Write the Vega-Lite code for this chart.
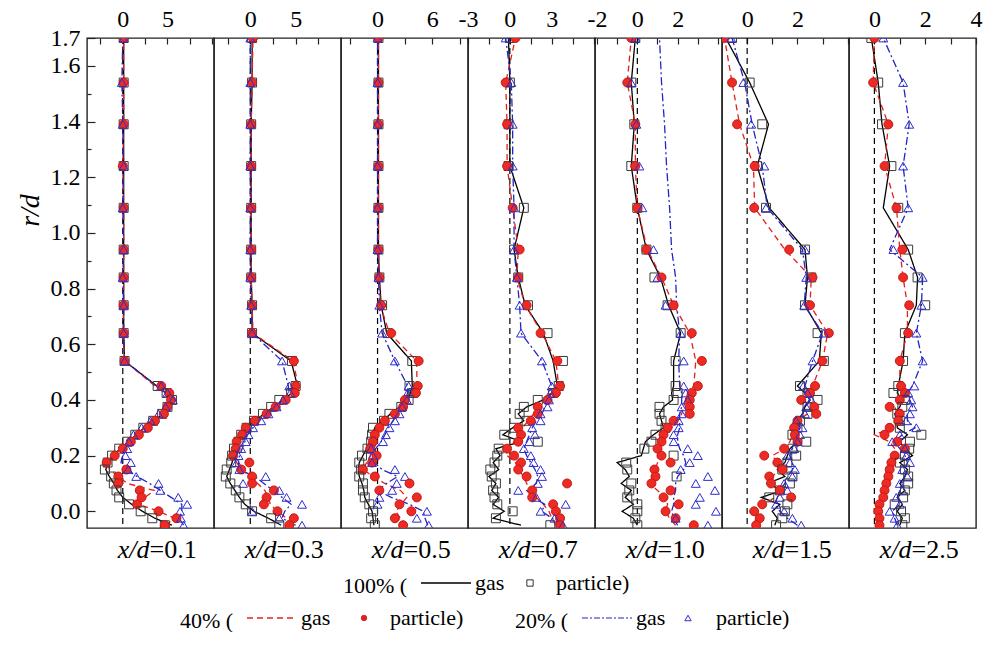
{
  "$schema": "https://vega.github.io/schema/vega-lite/v6.json",
  "description": "Radial profiles r/d at seven stations x/d, gas lines and particle symbols for 100%, 40% and 20% cases",
  "background": "white",
  "padding": {"left": 15, "top": 6, "right": 0, "bottom": 0},
  "bounds": "flush",
  "spacing": 0,
  "config": {
    "font": "Liberation Serif",
    "view": {"stroke": "#222222", "strokeWidth": 1.4},
    "axis": {
      "labelFont": "Liberation Serif", "labelFontSize": 24, "labelColor": "#000000",
      "titleFont": "Liberation Serif", "titleColor": "#000000", "titleFontWeight": "normal",
      "tickColor": "#222222", "tickWidth": 1.2, "grid": false, "domain": false,
      "labelFlush": false, "labelOverlap": false
    },
    "legend": {
      "labelFont": "Liberation Serif", "labelFontSize": 22, "labelColor": "#000000",
      "titleFont": "Liberation Serif", "titleFontSize": 22, "titleFontWeight": "normal", "titleColor": "#000000",
      "orient": "none", "direction": "horizontal", "titleOrient": "left", "titleAnchor": "middle", "titleBaseline": "top",
      "titlePadding": 12, "symbolOpacity": 1
    }
  },
  "data": {
    "values": [
      {"panel":1,"r":1.7,"g100":0.1,"p100":0.1,"g40":0.1,"p40":0.1,"g20":0.0,"p20":0.1},
      {"panel":1,"r":1.54,"g100":0.1,"p100":0.1,"g40":0.1,"p40":0.1,"g20":-0.1,"p20":-0.1},
      {"panel":1,"r":1.39,"g100":0.1,"p100":0.1,"g40":0.1,"p40":0.1,"g20":0.0,"p20":0.0},
      {"panel":1,"r":1.24,"g100":0.1,"p100":0.1,"g40":0.0,"p40":0.0,"g20":0.1,"p20":0.1},
      {"panel":1,"r":1.09,"g100":0.1,"p100":0.1,"g40":0.1,"p40":0.1,"g20":0.0,"p20":0.0},
      {"panel":1,"r":0.94,"g100":0.1,"p100":0.1,"g40":0.1,"p40":0.1,"g20":0.1,"p20":0.1},
      {"panel":1,"r":0.84,"g100":0.1,"p100":0.1,"g40":0.1,"p40":0.1,"g20":0.0,"p20":0.0},
      {"panel":1,"r":0.74,"g100":0.1,"p100":0.1,"g40":0.1,"p40":0.1,"g20":0.1,"p20":0.1},
      {"panel":1,"r":0.64,"g100":0.1,"p100":0.1,"g40":0.0,"p40":0.1,"g20":0.1,"p20":0.1},
      {"panel":1,"r":0.54,"g100":0.2,"p100":0.2,"g40":0.2,"p40":0.2,"g20":0.2,"p20":0.2},
      {"panel":1,"r":0.45,"g100":3.8,"p100":3.9,"g40":3.6,"p40":4.3,"g20":3.8,"p20":4.3},
      {"panel":1,"r":0.425,"g100":4.8,"p100":4.9,"g40":4.7,"p40":5.2,"g20":4.8,"p20":5.0},
      {"panel":1,"r":0.4,"g100":5.6,"p100":5.5,"g40":5.5,"p40":5.4,"g20":5.6,"p20":5.6},
      {"panel":1,"r":0.375,"g100":5.2,"p100":5.0,"g40":5.0,"p40":5.0,"g20":5.0,"p20":4.8},
      {"panel":1,"r":0.35,"g100":4.5,"p100":4.4,"g40":4.4,"p40":4.6,"g20":4.2,"p20":4.0},
      {"panel":1,"r":0.325,"g100":3.5,"p100":3.4,"g40":3.4,"p40":3.6,"g20":3.2,"p20":3.1},
      {"panel":1,"r":0.3,"g100":2.4,"p100":2.3,"g40":2.5,"p40":2.8,"g20":2.2,"p20":2.1},
      {"panel":1,"r":0.275,"g100":1.5,"p100":1.4,"g40":1.6,"p40":1.8,"g20":1.3,"p20":1.2},
      {"panel":1,"r":0.25,"g100":0.6,"p100":0.5,"g40":0.7,"p40":0.9,"g20":0.7,"p20":0.7},
      {"panel":1,"r":0.225,"g100":-0.3,"p100":-0.4,"g40":-0.2,"p40":0.0,"g20":0.3,"p20":0.5},
      {"panel":1,"r":0.2,"g100":-1.1,"p100":-1.2,"g40":-1.0,"p40":-0.9,"g20":0.0,"p20":0.3},
      {"panel":1,"r":0.175,"g100":-1.6,"p100":-1.7,"g40":-1.6,"p40":-1.8,"g20":-0.2,"p20":0.9},
      {"panel":1,"r":0.15,"g100":-1.9,"p100":-2.0,"g40":-1.5,"p40":0.4,"g20":0.4,"p20":0.6},
      {"panel":1,"r":0.125,"g100":-1.5,"p100":-1.3,"g40":-0.5,"p40":-0.5,"g20":1.6,"p20":1.5},
      {"panel":1,"r":0.1,"g100":-1.0,"p100":-1.0,"g40":0.5,"p40":-0.5,"g20":3.0,"p20":4.0},
      {"panel":1,"r":0.075,"g100":-0.6,"p100":-0.7,"g40":3.5,"p40":1.9,"g20":4.2,"p20":4.2},
      {"panel":1,"r":0.05,"g100":0.0,"p100":-0.4,"g40":2.5,"p40":2.1,"g20":5.4,"p20":6.2},
      {"panel":1,"r":0.025,"g100":1.0,"p100":0.7,"g40":1.8,"p40":1.6,"g20":6.6,"p20":7.2},
      {"panel":1,"r":0.0,"g100":2.2,"p100":2.0,"g40":4.0,"p40":4.0,"g20":6.6,"p20":6.4},
      {"panel":1,"r":-0.025,"g100":3.6,"p100":3.3,"g40":5.8,"p40":6.0,"g20":6.3,"p20":6.5},
      {"panel":1,"r":-0.05,"g100":5.5,"p100":4.7,"g40":4.8,"p40":4.7,"g20":6.8,"p20":6.8},

      {"panel":2,"r":1.7,"g100":0.2,"p100":0.2,"g40":0.3,"p40":0.3,"g20":0.0,"p20":0.0},
      {"panel":2,"r":1.54,"g100":0.2,"p100":0.2,"g40":0.2,"p40":0.2,"g20":0.0,"p20":0.0},
      {"panel":2,"r":1.39,"g100":0.1,"p100":0.1,"g40":0.1,"p40":0.1,"g20":0.0,"p20":0.0},
      {"panel":2,"r":1.24,"g100":0.1,"p100":0.1,"g40":0.1,"p40":0.1,"g20":0.0,"p20":0.0},
      {"panel":2,"r":1.09,"g100":0.1,"p100":0.1,"g40":0.1,"p40":0.1,"g20":0.0,"p20":0.0},
      {"panel":2,"r":0.94,"g100":0.1,"p100":0.1,"g40":0.1,"p40":0.1,"g20":0.0,"p20":0.0},
      {"panel":2,"r":0.84,"g100":0.1,"p100":0.1,"g40":0.1,"p40":0.1,"g20":0.0,"p20":0.0},
      {"panel":2,"r":0.74,"g100":0.2,"p100":0.2,"g40":0.2,"p40":0.2,"g20":0.1,"p20":0.1},
      {"panel":2,"r":0.64,"g100":0.2,"p100":0.2,"g40":0.3,"p40":0.2,"g20":0.2,"p20":0.2},
      {"panel":2,"r":0.54,"g100":4.5,"p100":4.6,"g40":4.7,"p40":4.8,"g20":3.5,"p20":3.5},
      {"panel":2,"r":0.45,"g100":5.2,"p100":5.0,"g40":5.3,"p40":5.0,"g20":4.2,"p20":4.3},
      {"panel":2,"r":0.425,"g100":4.6,"p100":4.5,"g40":4.8,"p40":4.9,"g20":4.2,"p20":4.4},
      {"panel":2,"r":0.4,"g100":3.6,"p100":3.2,"g40":3.9,"p40":3.9,"g20":3.6,"p20":3.6},
      {"panel":2,"r":0.375,"g100":2.6,"p100":2.3,"g40":2.7,"p40":2.8,"g20":2.8,"p20":2.9},
      {"panel":2,"r":0.35,"g100":1.5,"p100":1.4,"g40":1.6,"p40":1.8,"g20":1.9,"p20":2.0},
      {"panel":2,"r":0.325,"g100":0.5,"p100":0.4,"g40":0.6,"p40":0.5,"g20":1.0,"p20":1.2},
      {"panel":2,"r":0.3,"g100":-0.4,"p100":-0.4,"g40":-0.3,"p40":-0.5,"g20":0.3,"p20":0.3},
      {"panel":2,"r":0.275,"g100":-1.0,"p100":-1.0,"g40":-1.0,"p40":-0.9,"g20":-0.3,"p20":-0.2},
      {"panel":2,"r":0.25,"g100":-1.4,"p100":-1.3,"g40":-1.4,"p40":-1.5,"g20":-0.6,"p20":-0.5},
      {"panel":2,"r":0.225,"g100":-1.7,"p100":-1.8,"g40":-1.7,"p40":-1.6,"g20":-0.9,"p20":-1.0},
      {"panel":2,"r":0.2,"g100":-1.9,"p100":-2.0,"g40":-1.8,"p40":-1.9,"g20":-1.2,"p20":-1.3},
      {"panel":2,"r":0.175,"g100":-2.0,"p100":-2.1,"g40":-1.5,"p40":-0.1,"g20":-1.3,"p20":-1.5},
      {"panel":2,"r":0.15,"g100":-2.3,"p100":-2.6,"g40":-1.0,"p40":-1.0,"g20":-1.2,"p20":-1.2},
      {"panel":2,"r":0.125,"g100":-2.6,"p100":-2.7,"g40":0.0,"p40":0.2,"g20":0.5,"p20":1.7},
      {"panel":2,"r":0.1,"g100":-2.2,"p100":-2.2,"g40":0.8,"p40":0.2,"g20":1.5,"p20":-0.8},
      {"panel":2,"r":0.075,"g100":-1.7,"p100":-1.6,"g40":1.6,"p40":2.6,"g20":2.5,"p20":3.2},
      {"panel":2,"r":0.05,"g100":-1.2,"p100":-1.2,"g40":2.0,"p40":1.8,"g20":3.5,"p20":4.0},
      {"panel":2,"r":0.025,"g100":-0.6,"p100":-0.5,"g40":2.2,"p40":1.5,"g20":4.5,"p20":5.7},
      {"panel":2,"r":0.0,"g100":0.4,"p100":0.2,"g40":3.0,"p40":3.0,"g20":3.8,"p20":0.2},
      {"panel":2,"r":-0.025,"g100":2.0,"p100":2.3,"g40":4.0,"p40":4.8,"g20":3.5,"p20":3.2},
      {"panel":2,"r":-0.05,"g100":3.4,"p100":3.2,"g40":4.5,"p40":4.3,"g20":5.0,"p20":5.7},

      {"panel":3,"r":1.7,"g100":0.1,"p100":0.1,"g40":0.1,"p40":0.1,"g20":0.0,"p20":0.0},
      {"panel":3,"r":1.54,"g100":0.1,"p100":0.1,"g40":0.1,"p40":0.1,"g20":0.0,"p20":0.0},
      {"panel":3,"r":1.39,"g100":0.1,"p100":0.1,"g40":0.1,"p40":0.1,"g20":0.0,"p20":0.0},
      {"panel":3,"r":1.24,"g100":0.1,"p100":0.1,"g40":0.1,"p40":0.1,"g20":0.0,"p20":0.0},
      {"panel":3,"r":1.09,"g100":0.1,"p100":0.1,"g40":0.1,"p40":0.1,"g20":0.0,"p20":0.0},
      {"panel":3,"r":0.94,"g100":0.1,"p100":0.1,"g40":0.1,"p40":0.1,"g20":0.0,"p20":0.0},
      {"panel":3,"r":0.84,"g100":0.2,"p100":0.2,"g40":0.2,"p40":0.2,"g20":0.1,"p20":0.1},
      {"panel":3,"r":0.74,"g100":0.4,"p100":0.5,"g40":0.3,"p40":0.4,"g20":0.2,"p20":0.2},
      {"panel":3,"r":0.64,"g100":1.0,"p100":1.1,"g40":1.3,"p40":1.5,"g20":0.5,"p20":0.5},
      {"panel":3,"r":0.54,"g100":3.7,"p100":3.8,"g40":4.3,"p40":4.5,"g20":1.9,"p20":1.9},
      {"panel":3,"r":0.45,"g100":3.8,"p100":3.5,"g40":4.3,"p40":4.4,"g20":3.3,"p20":3.4},
      {"panel":3,"r":0.425,"g100":3.6,"p100":3.9,"g40":4.1,"p40":4.2,"g20":3.3,"p20":3.3},
      {"panel":3,"r":0.4,"g100":3.3,"p100":3.4,"g40":3.2,"p40":3.0,"g20":3.0,"p20":3.2},
      {"panel":3,"r":0.375,"g100":2.4,"p100":2.6,"g40":2.4,"p40":2.8,"g20":2.6,"p20":2.7},
      {"panel":3,"r":0.35,"g100":1.4,"p100":1.3,"g40":1.5,"p40":1.9,"g20":2.2,"p20":2.4},
      {"panel":3,"r":0.325,"g100":0.6,"p100":0.7,"g40":0.8,"p40":0.8,"g20":1.7,"p20":1.9},
      {"panel":3,"r":0.3,"g100":-0.3,"p100":-0.5,"g40":0.1,"p40":0.2,"g20":1.2,"p20":1.3},
      {"panel":3,"r":0.275,"g100":-0.6,"p100":-0.6,"g40":-0.4,"p40":-0.3,"g20":0.8,"p20":0.9},
      {"panel":3,"r":0.25,"g100":-0.8,"p100":-0.7,"g40":-0.5,"p40":-0.5,"g20":0.4,"p20":0.6},
      {"panel":3,"r":0.225,"g100":-1.2,"p100":-1.1,"g40":-0.6,"p40":-0.8,"g20":-0.2,"p20":-0.7},
      {"panel":3,"r":0.2,"g100":-1.6,"p100":-1.7,"g40":-0.8,"p40":-0.1,"g20":-0.4,"p20":-0.5},
      {"panel":3,"r":0.175,"g100":-2.0,"p100":-2.0,"g40":-1.2,"p40":-0.6,"g20":-0.3,"p20":-0.6},
      {"panel":3,"r":0.15,"g100":-2.1,"p100":-1.8,"g40":-1.6,"p40":-1.6,"g20":0.5,"p20":1.9},
      {"panel":3,"r":0.125,"g100":-2.0,"p100":-2.0,"g40":-0.5,"p40":-0.3,"g20":2.2,"p20":3.0},
      {"panel":3,"r":0.1,"g100":-1.7,"p100":-1.6,"g40":0.8,"p40":3.5,"g20":1.0,"p20":2.1},
      {"panel":3,"r":0.075,"g100":-1.5,"p100":-1.6,"g40":2.5,"p40":0.2,"g20":0.0,"p20":1.6},
      {"panel":3,"r":0.05,"g100":-1.4,"p100":-1.4,"g40":3.2,"p40":4.3,"g20":1.5,"p20":0.2},
      {"panel":3,"r":0.025,"g100":-1.0,"p100":-0.9,"g40":2.6,"p40":2.4,"g20":3.5,"p20":0.0},
      {"panel":3,"r":0.0,"g100":-0.6,"p100":-0.5,"g40":2.0,"p40":3.7,"g20":5.0,"p20":5.4},
      {"panel":3,"r":-0.025,"g100":-0.5,"p100":-0.7,"g40":2.5,"p40":1.9,"g20":5.2,"p20":4.3},
      {"panel":3,"r":-0.05,"g100":-0.4,"p100":-0.3,"g40":3.2,"p40":2.8,"g20":5.5,"p20":5.6},

      {"panel":4,"r":1.7,"g100":-0.1,"p100":0.0,"g40":0.4,"p40":0.4,"g20":-0.3,"p20":-0.3},
      {"panel":4,"r":1.54,"g100":0.0,"p100":0.0,"g40":-0.3,"p40":-0.3,"g20":0.1,"p20":0.1},
      {"panel":4,"r":1.39,"g100":0.0,"p100":-0.1,"g40":-0.2,"p40":-0.2,"g20":0.2,"p20":0.2},
      {"panel":4,"r":1.24,"g100":0.0,"p100":-0.1,"g40":-0.2,"p40":-0.2,"g20":0.2,"p20":0.2},
      {"panel":4,"r":1.09,"g100":1.0,"p100":1.0,"g40":0.2,"p40":0.2,"g20":0.3,"p20":0.3},
      {"panel":4,"r":0.94,"g100":0.3,"p100":0.3,"g40":0.6,"p40":0.7,"g20":0.3,"p20":0.3},
      {"panel":4,"r":0.84,"g100":0.6,"p100":0.6,"g40":0.5,"p40":0.6,"g20":0.5,"p20":0.5},
      {"panel":4,"r":0.74,"g100":1.1,"p100":1.3,"g40":1.1,"p40":1.2,"g20":0.7,"p20":0.7},
      {"panel":4,"r":0.64,"g100":2.4,"p100":2.7,"g40":2.3,"p40":2.2,"g20":0.8,"p20":0.8},
      {"panel":4,"r":0.54,"g100":3.1,"p100":3.8,"g40":3.3,"p40":3.4,"g20":2.3,"p20":2.3},
      {"panel":4,"r":0.45,"g100":3.4,"p100":3.5,"g40":3.5,"p40":3.6,"g20":3.0,"p20":3.0},
      {"panel":4,"r":0.425,"g100":3.0,"p100":3.1,"g40":3.1,"p40":3.3,"g20":2.9,"p20":2.9},
      {"panel":4,"r":0.4,"g100":2.4,"p100":2.0,"g40":2.5,"p40":2.7,"g20":2.8,"p20":2.8},
      {"panel":4,"r":0.375,"g100":1.2,"p100":1.0,"g40":2.2,"p40":2.0,"g20":2.5,"p20":2.7},
      {"panel":4,"r":0.35,"g100":0.6,"p100":0.7,"g40":1.7,"p40":2.0,"g20":2.3,"p20":2.2},
      {"panel":4,"r":0.325,"g100":1.0,"p100":1.2,"g40":1.3,"p40":1.5,"g20":1.9,"p20":2.2},
      {"panel":4,"r":0.3,"g100":0.2,"p100":0.3,"g40":0.9,"p40":0.6,"g20":1.6,"p20":1.6},
      {"panel":4,"r":0.275,"g100":-0.5,"p100":-0.4,"g40":0.6,"p40":0.8,"g20":1.4,"p20":1.8},
      {"panel":4,"r":0.25,"g100":0.8,"p100":2.0,"g40":0.3,"p40":0.6,"g20":1.2,"p20":1.4},
      {"panel":4,"r":0.225,"g100":-1.0,"p100":-0.8,"g40":0.0,"p40":-0.2,"g20":1.0,"p20":1.0},
      {"panel":4,"r":0.2,"g100":-0.7,"p100":-0.9,"g40":-0.2,"p40":0.3,"g20":1.2,"p20":1.5},
      {"panel":4,"r":0.175,"g100":-1.2,"p100":-1.1,"g40":0.4,"p40":0.8,"g20":1.5,"p20":1.7},
      {"panel":4,"r":0.15,"g100":-0.8,"p100":-1.4,"g40":0.6,"p40":0.6,"g20":1.8,"p20":2.2},
      {"panel":4,"r":0.125,"g100":-1.5,"p100":-1.3,"g40":1.0,"p40":1.2,"g20":2.0,"p20":2.3},
      {"panel":4,"r":0.1,"g100":-1.0,"p100":-1.0,"g40":1.2,"p40":4.1,"g20":1.9,"p20":2.0},
      {"panel":4,"r":0.075,"g100":-1.3,"p100":-1.2,"g40":1.5,"p40":1.6,"g20":1.2,"p20":0.6},
      {"panel":4,"r":0.05,"g100":-0.8,"p100":-1.1,"g40":1.9,"p40":1.6,"g20":1.7,"p20":1.9},
      {"panel":4,"r":0.025,"g100":-1.2,"p100":-0.9,"g40":2.4,"p40":3.1,"g20":2.5,"p20":4.0},
      {"panel":4,"r":0.0,"g100":-0.4,"p100":0.2,"g40":2.8,"p40":3.3,"g20":2.3,"p20":2.2},
      {"panel":4,"r":-0.025,"g100":-1.2,"p100":-1.0,"g40":3.0,"p40":3.6,"g20":3.0,"p20":3.2},
      {"panel":4,"r":-0.05,"g100":0.8,"p100":2.9,"g40":3.3,"p40":3.6,"g20":3.8,"p20":3.8},

      {"panel":5,"r":1.7,"g100":-0.1,"p100":-0.1,"g40":-0.3,"p40":-0.3,"g20":1.1,"p20":-0.1},
      {"panel":5,"r":1.54,"g100":-0.3,"p100":-0.3,"g40":-0.5,"p40":-0.5,"g20":1.2,"p20":-0.3},
      {"panel":5,"r":1.39,"g100":-0.15,"p100":-0.15,"g40":-0.1,"p40":-0.1,"g20":1.35,"p20":-0.05},
      {"panel":5,"r":1.24,"g100":-0.3,"p100":-0.3,"g40":-0.1,"p40":-0.1,"g20":1.45,"p20":0.1},
      {"panel":5,"r":1.09,"g100":0.0,"p100":0.0,"g40":0.0,"p40":0.0,"g20":1.6,"p20":0.25},
      {"panel":5,"r":0.94,"g100":0.45,"p100":0.45,"g40":0.5,"p40":0.45,"g20":1.7,"p20":0.8},
      {"panel":5,"r":0.84,"g100":1.15,"p100":0.85,"g40":1.2,"p40":1.2,"g20":1.9,"p20":1.0},
      {"panel":5,"r":0.74,"g100":1.55,"p100":1.5,"g40":1.8,"p40":1.8,"g20":1.95,"p20":1.4},
      {"panel":5,"r":0.64,"g100":2.15,"p100":2.15,"g40":2.6,"p40":2.7,"g20":2.1,"p20":2.15},
      {"panel":5,"r":0.54,"g100":1.8,"p100":1.9,"g40":2.9,"p40":3.2,"g20":2.05,"p20":2.3},
      {"panel":5,"r":0.45,"g100":1.8,"p100":1.9,"g40":2.8,"p40":3.0,"g20":2.1,"p20":2.3},
      {"panel":5,"r":0.425,"g100":1.7,"p100":2.0,"g40":2.5,"p40":2.7,"g20":2.2,"p20":2.4},
      {"panel":5,"r":0.4,"g100":1.75,"p100":1.8,"g40":2.4,"p40":2.6,"g20":2.2,"p20":2.5},
      {"panel":5,"r":0.375,"g100":1.3,"p100":1.1,"g40":2.3,"p40":2.6,"g20":2.2,"p20":2.2},
      {"panel":5,"r":0.35,"g100":1.1,"p100":1.1,"g40":2.2,"p40":2.6,"g20":2.1,"p20":2.2},
      {"panel":5,"r":0.325,"g100":1.2,"p100":1.2,"g40":2.0,"p40":1.8,"g20":2.1,"p20":2.05},
      {"panel":5,"r":0.3,"g100":1.3,"p100":1.4,"g40":1.7,"p40":1.5,"g20":2.1,"p20":2.05},
      {"panel":5,"r":0.275,"g100":0.8,"p100":0.9,"g40":1.4,"p40":1.3,"g20":2.0,"p20":1.8},
      {"panel":5,"r":0.25,"g100":0.4,"p100":0.7,"g40":1.2,"p40":1.2,"g20":2.0,"p20":1.8},
      {"panel":5,"r":0.225,"g100":0.3,"p100":0.35,"g40":1.1,"p40":1.0,"g20":2.1,"p20":2.5},
      {"panel":5,"r":0.2,"g100":0.2,"p100":1.8,"g40":1.0,"p40":1.2,"g20":2.3,"p20":3.0},
      {"panel":5,"r":0.175,"g100":-1.0,"p100":-0.55,"g40":1.0,"p40":1.65,"g20":2.4,"p20":2.6},
      {"panel":5,"r":0.15,"g100":-0.6,"p100":-0.5,"g40":0.9,"p40":0.85,"g20":2.3,"p20":2.15},
      {"panel":5,"r":0.125,"g100":-0.4,"p100":1.95,"g40":0.7,"p40":0.9,"g20":2.0,"p20":3.5},
      {"panel":5,"r":0.1,"g100":-0.8,"p100":-0.3,"g40":0.6,"p40":0.7,"g20":1.9,"p20":2.9},
      {"panel":5,"r":0.075,"g100":-0.3,"p100":-0.4,"g40":1.0,"p40":1.65,"g20":1.9,"p20":3.85},
      {"panel":5,"r":0.05,"g100":-0.6,"p100":-0.5,"g40":1.4,"p40":1.3,"g20":1.8,"p20":3.1},
      {"panel":5,"r":0.025,"g100":-0.2,"p100":0.0,"g40":1.5,"p40":2.05,"g20":1.8,"p20":2.9},
      {"panel":5,"r":0.0,"g100":-0.75,"p100":0.0,"g40":1.4,"p40":1.4,"g20":1.7,"p20":3.9},
      {"panel":5,"r":-0.025,"g100":-0.2,"p100":-0.1,"g40":1.6,"p40":1.9,"g20":1.8,"p20":1.9},
      {"panel":5,"r":-0.05,"g100":0.0,"p100":0.0,"g40":1.9,"p40":2.8,"g20":2.0,"p20":3.5},

      {"panel":6,"r":1.7,"g100":-0.85,"p100":-0.6,"g40":-0.9,"p40":-0.9,"g20":-0.6,"p20":-0.64},
      {"panel":6,"r":1.54,"g100":0.1,"p100":0.1,"g40":-0.6,"p40":-0.6,"g20":-0.1,"p20":-0.15},
      {"panel":6,"r":1.39,"g100":0.85,"p100":0.6,"g40":-0.3,"p40":-0.4,"g20":0.2,"p20":0.16},
      {"panel":6,"r":1.24,"g100":0.4,"p100":0.4,"g40":0.25,"p40":0.3,"g20":0.6,"p20":0.68},
      {"panel":6,"r":1.09,"g100":0.88,"p100":0.75,"g40":0.3,"p40":0.28,"g20":0.8,"p20":0.75},
      {"panel":6,"r":0.94,"g100":2.3,"p100":2.3,"g40":1.5,"p40":1.67,"g20":2.2,"p20":2.3},
      {"panel":6,"r":0.84,"g100":2.4,"p100":2.55,"g40":2.55,"p40":2.6,"g20":2.35,"p20":2.35},
      {"panel":6,"r":0.74,"g100":2.3,"p100":2.3,"g40":2.5,"p40":2.5,"g20":2.27,"p20":2.27},
      {"panel":6,"r":0.64,"g100":2.95,"p100":2.8,"g40":3.2,"p40":3.25,"g20":3.0,"p20":3.05},
      {"panel":6,"r":0.54,"g100":2.87,"p100":3.05,"g40":3.0,"p40":2.99,"g20":2.6,"p20":2.6},
      {"panel":6,"r":0.45,"g100":2.0,"p100":2.1,"g40":2.6,"p40":2.7,"g20":2.3,"p20":2.23},
      {"panel":6,"r":0.425,"g100":2.3,"p100":2.4,"g40":2.4,"p40":2.5,"g20":2.3,"p20":2.4},
      {"panel":6,"r":0.4,"g100":2.5,"p100":2.8,"g40":2.2,"p40":2.15,"g20":2.5,"p20":2.55},
      {"panel":6,"r":0.375,"g100":2.3,"p100":2.4,"g40":2.6,"p40":2.67,"g20":2.3,"p20":2.35},
      {"panel":6,"r":0.35,"g100":2.2,"p100":2.4,"g40":2.4,"p40":2.75,"g20":2.2,"p20":2.3},
      {"panel":6,"r":0.325,"g100":2.0,"p100":2.1,"g40":2.0,"p40":2.0,"g20":2.0,"p20":1.95},
      {"panel":6,"r":0.3,"g100":1.9,"p100":2.0,"g40":1.9,"p40":1.87,"g20":2.1,"p20":2.2},
      {"panel":6,"r":0.275,"g100":1.8,"p100":1.8,"g40":1.8,"p40":1.9,"g20":2.0,"p20":2.1},
      {"panel":6,"r":0.25,"g100":2.0,"p100":2.35,"g40":1.7,"p40":2.0,"g20":1.9,"p20":2.0},
      {"panel":6,"r":0.225,"g100":1.7,"p100":1.8,"g40":1.5,"p40":1.47,"g20":1.8,"p20":1.87},
      {"panel":6,"r":0.2,"g100":1.6,"p100":1.95,"g40":1.0,"p40":0.68,"g20":1.7,"p20":1.6},
      {"panel":6,"r":0.175,"g100":1.5,"p100":1.6,"g40":1.2,"p40":1.2,"g20":1.8,"p20":1.7},
      {"panel":6,"r":0.15,"g100":1.2,"p100":1.4,"g40":1.3,"p40":1.4,"g20":1.8,"p20":1.9},
      {"panel":6,"r":0.125,"g100":1.5,"p100":1.8,"g40":1.0,"p40":0.88,"g20":1.6,"p20":1.8},
      {"panel":6,"r":0.1,"g100":0.8,"p100":1.7,"g40":0.9,"p40":0.95,"g20":1.5,"p20":1.47},
      {"panel":6,"r":0.075,"g100":1.4,"p100":1.3,"g40":1.2,"p40":1.3,"g20":1.3,"p20":1.6},
      {"panel":6,"r":0.05,"g100":0.56,"p100":0.88,"g40":1.1,"p40":1.75,"g20":1.2,"p20":1.3},
      {"panel":6,"r":0.025,"g100":1.3,"p100":1.6,"g40":0.7,"p40":0.6,"g20":1.1,"p20":1.15},
      {"panel":6,"r":0.0,"g100":1.0,"p100":1.5,"g40":0.4,"p40":0.28,"g20":1.3,"p20":1.47},
      {"panel":6,"r":-0.025,"g100":1.2,"p100":1.4,"g40":0.3,"p40":0.5,"g20":1.6,"p20":1.8},
      {"panel":6,"r":-0.05,"g100":1.1,"p100":1.15,"g40":0.4,"p40":0.36,"g20":2.0,"p20":2.15},

      {"panel":7,"r":1.7,"g100":-0.12,"p100":-0.12,"g40":0.0,"p40":0.0,"g20":0.35,"p20":0.35},
      {"panel":7,"r":1.54,"g100":0.15,"p100":0.15,"g40":-0.05,"p40":-0.05,"g20":1.13,"p20":1.13},
      {"panel":7,"r":1.39,"g100":0.3,"p100":0.3,"g40":0.55,"p40":0.55,"g20":1.37,"p20":1.37},
      {"panel":7,"r":1.24,"g100":0.6,"p100":0.67,"g40":0.4,"p40":0.4,"g20":1.13,"p20":1.13},
      {"panel":7,"r":1.09,"g100":0.35,"p100":0.94,"g40":0.87,"p40":0.87,"g20":1.33,"p20":1.33},
      {"panel":7,"r":0.94,"g100":1.33,"p100":1.33,"g40":1.0,"p40":1.1,"g20":0.6,"p20":0.75},
      {"panel":7,"r":0.84,"g100":1.7,"p100":1.7,"g40":1.13,"p40":1.13,"g20":1.9,"p20":1.9},
      {"panel":7,"r":0.74,"g100":1.65,"p100":2.0,"g40":1.3,"p40":1.37,"g20":1.85,"p20":1.85},
      {"panel":7,"r":0.64,"g100":1.2,"p100":1.2,"g40":1.3,"p40":1.33,"g20":1.65,"p20":1.65},
      {"panel":7,"r":0.54,"g100":1.13,"p100":1.13,"g40":1.0,"p40":1.0,"g20":1.9,"p20":1.9},
      {"panel":7,"r":0.45,"g100":0.94,"p100":0.94,"g40":1.0,"p40":1.05,"g20":1.5,"p20":1.57},
      {"panel":7,"r":0.425,"g100":0.9,"p100":0.75,"g40":1.1,"p40":1.2,"g20":1.3,"p20":1.33},
      {"panel":7,"r":0.4,"g100":1.1,"p100":1.2,"g40":1.0,"p40":1.0,"g20":1.4,"p20":1.45},
      {"panel":7,"r":0.375,"g100":1.0,"p100":1.1,"g40":0.8,"p40":0.6,"g20":1.5,"p20":1.5},
      {"panel":7,"r":0.35,"g100":0.8,"p100":0.9,"g40":0.9,"p40":1.0,"g20":1.3,"p20":1.4},
      {"panel":7,"r":0.325,"g100":0.9,"p100":1.0,"g40":0.8,"p40":0.94,"g20":1.3,"p20":1.25},
      {"panel":7,"r":0.3,"g100":0.9,"p100":1.0,"g40":0.7,"p40":0.6,"g20":1.6,"p20":1.65},
      {"panel":7,"r":0.275,"g100":1.3,"p100":1.85,"g40":0.0,"p40":0.4,"g20":1.1,"p20":1.0},
      {"panel":7,"r":0.25,"g100":1.0,"p100":1.4,"g40":0.6,"p40":0.9,"g20":0.8,"p20":0.7},
      {"panel":7,"r":0.225,"g100":1.2,"p100":1.37,"g40":0.8,"p40":1.2,"g20":1.0,"p20":1.2},
      {"panel":7,"r":0.2,"g100":1.5,"p100":1.2,"g40":0.75,"p40":0.8,"g20":1.2,"p20":1.25},
      {"panel":7,"r":0.175,"g100":1.0,"p100":1.0,"g40":0.6,"p40":0.67,"g20":1.3,"p20":1.4},
      {"panel":7,"r":0.15,"g100":1.3,"p100":1.2,"g40":0.5,"p40":0.6,"g20":1.2,"p20":1.1},
      {"panel":7,"r":0.125,"g100":1.2,"p100":1.33,"g40":0.4,"p40":0.55,"g20":1.2,"p20":1.3},
      {"panel":7,"r":0.1,"g100":1.0,"p100":1.33,"g40":0.4,"p40":0.47,"g20":1.1,"p20":1.0},
      {"panel":7,"r":0.075,"g100":1.2,"p100":1.2,"g40":0.35,"p40":0.4,"g20":1.0,"p20":1.1},
      {"panel":7,"r":0.05,"g100":0.9,"p100":1.13,"g40":0.3,"p40":0.35,"g20":0.9,"p20":0.86},
      {"panel":7,"r":0.025,"g100":1.1,"p100":0.8,"g40":0.25,"p40":0.2,"g20":1.0,"p20":1.0},
      {"panel":7,"r":0.0,"g100":0.9,"p100":1.05,"g40":0.15,"p40":0.15,"g20":0.7,"p20":0.6},
      {"panel":7,"r":-0.025,"g100":1.1,"p100":1.2,"g40":0.2,"p40":0.2,"g20":0.8,"p20":0.8},
      {"panel":7,"r":-0.05,"g100":1.0,"p100":1.1,"g40":0.3,"p40":0.2,"g20":0.9,"p20":0.9}
    ]
  },
  "hconcat": [
    {
      "width": 127, "height": 490,
      "transform": [{"filter": "datum.panel == 1"}],
      "layer": [
        {
          "data": {"values": [{}]},
          "mark": {"type": "rule", "strokeDash": [6, 4], "color": "#000000", "strokeWidth": 1.2},
          "encoding": {"x": {"datum": 0, "type": "quantitative", "axis": {"orient": "bottom", "labels": false, "ticks": false, "title": "=0.1", "titleFont": "Liberation Serif", "titleFontSize": 26, "titleColor": "#000000", "titleFontWeight": "normal", "titleX": 62, "titleAlign": "left", "titlePadding": 8}}}
        },
        {
          "transform": [{"fold": ["g100", "g40", "g20"], "as": ["s", "u"]}],
          "mark": {"type": "line", "strokeWidth": 1.3, "clip": true},
          "encoding": {
            "x": {"field": "u", "type": "quantitative", "scale": {"domain": [-4, 10.2], "nice": false, "zero": false},
              "axis": {"orient": "top", "values": [-2.5, 0, 2.5, 5, 7.5, 10], "labelExpr": "datum.value == 0 ? '0' : datum.value == 5 ? '5' : ''", "labelFont": "Liberation Serif", "labelFontSize": 24, "labelColor": "#000000", "tickSize": -6, "labelPadding": 13, "title": null}},
            "y": {"field": "r", "type": "quantitative", "scale": {"domain": [-0.06, 1.7], "nice": false, "zero": false},
              "axis": {"orient": "left", "values": [0, 0.2, 0.4, 0.6, 0.8, 1.0, 1.2, 1.4, 1.6, 1.7], "format": ".1f", "labelFont": "Liberation Serif", "labelFontSize": 24, "labelColor": "#000000", "tickSize": -8, "labelPadding": 15, "title": "r/d", "titleFont": "Liberation Serif", "titleFontStyle": "italic", "titleFontWeight": "normal", "titleColor": "#000000", "titleFontSize": 28, "titleY": 172, "titlePadding": 6}},
            "order": {"field": "r", "type": "quantitative"},
            "detail": {"field": "s", "type": "nominal"},
            "color": {"condition": [{"test": "datum.s == 'g40'", "value": "#e3211c"}, {"test": "datum.s == 'g20'", "value": "#2424c4"}], "value": "#000000"},
            "strokeDash": {"condition": [{"test": "datum.s == 'g40'", "value": [6, 4]}, {"test": "datum.s == 'g20'", "value": [8, 3, 2, 3]}], "value": [1, 0]}
          }
        },
        {
          "transform": [{"fold": ["p100", "p40", "p20"], "as": ["s", "u"]}],
          "mark": {"type": "point", "size": 80, "strokeWidth": 1, "opacity": 1, "clip": true},
          "encoding": {
            "x": {"field": "u", "type": "quantitative", "axis": {"orient": "bottom", "labels": false, "ticks": false, "title": "x/d", "titleFont": "Liberation Serif", "titleFontStyle": "italic", "titleFontWeight": "normal", "titleColor": "#000000", "titleFontSize": 26, "titleX": 62, "titleAlign": "right", "titlePadding": 8}},
            "y": {"field": "r", "type": "quantitative", "scale": {"domain": [-0.06, 1.7], "nice": false, "zero": false},
              "axis": {"orient": "left", "values": [0.1, 0.3, 0.5, 0.7, 0.9, 1.1, 1.3, 1.5], "labels": false, "tickSize": -4, "title": null}},
            "shape": {"condition": [{"test": "datum.s == 'p100'", "value": "square"}, {"test": "datum.s == 'p40'", "value": "circle"}], "value": "triangle-up"},
            "color": {"condition": [{"test": "datum.s == 'p100'", "value": "#3a3a3a"}, {"test": "datum.s == 'p40'", "value": "#c41a16"}], "value": "#2c2cd0"},
            "fill": {"condition": {"test": "datum.s == 'p40'", "value": "#ee2a24"}, "value": "transparent"}
          }
        },
        {
          "data": {"values": [{"a": "gas", "b": "particle)", "c": "gas", "d": "particle)", "e": "gas", "f": "particle)"}]},
          "mark": {"type": "point", "opacity": 0},
          "encoding": {
            "strokeDash": {"field": "a", "type": "nominal", "scale": {"range": [[1, 0]]},
              "legend": {"title": "100% (", "legendX": 256, "legendY": 519, "labelOffset": 3,
                "symbolType": "stroke", "symbolSize": 2500, "symbolStrokeColor": "#000000", "symbolFillColor": "transparent", "symbolStrokeWidth": 1.3, "symbolOpacity": 1,
                "labelFont": "Liberation Serif", "labelFontSize": 22, "labelColor": "#000000",
                "titleFont": "Liberation Serif", "titleFontSize": 22, "titleFontWeight": "normal", "titleColor": "#000000",
                "orient": "none", "direction": "horizontal", "titleOrient": "left", "titleAnchor": "middle", "titleBaseline": "top", "titlePadding": 12}},
            "shape": {"field": "b", "type": "nominal", "scale": {"range": ["square"]},
              "legend": {"title": null, "legendX": 432, "legendY": 534, "labelOffset": 15,
                "symbolSize": 40, "symbolStrokeColor": "#333333", "symbolFillColor": "transparent", "symbolStrokeWidth": 1, "symbolOpacity": 1,
                "labelFont": "Liberation Serif", "labelFontSize": 22, "labelColor": "#000000",
                "orient": "none", "direction": "horizontal"}},
            "strokeWidth": {"field": "c", "type": "ordinal", "scale": {"range": [1.3, 1.3]},
              "legend": {"title": "40% (", "legendX": 93, "legendY": 554, "labelOffset": 3,
                "symbolType": "stroke", "symbolSize": 2500, "symbolStrokeColor": "#e3211c", "symbolFillColor": "transparent", "symbolDash": [6, 4], "symbolOpacity": 1,
                "labelFont": "Liberation Serif", "labelFontSize": 22, "labelColor": "#000000",
                "titleFont": "Liberation Serif", "titleFontSize": 22, "titleFontWeight": "normal", "titleColor": "#000000",
                "orient": "none", "direction": "horizontal", "titleOrient": "left", "titleAnchor": "middle", "titleBaseline": "top", "titlePadding": 12}},
            "fill": {"field": "d", "type": "nominal", "scale": {"range": ["#e3211c"]},
              "legend": {"title": null, "legendX": 266, "legendY": 569, "labelOffset": 15,
                "symbolType": "circle", "symbolSize": 30, "symbolStrokeColor": "#c41a16", "symbolStrokeWidth": 0.8, "symbolOpacity": 1,
                "labelFont": "Liberation Serif", "labelFontSize": 22, "labelColor": "#000000",
                "orient": "none", "direction": "horizontal"}},
            "stroke": {"field": "e", "type": "nominal", "scale": {"range": ["#2424c4"]},
              "legend": {"title": "20% (", "legendX": 428, "legendY": 554, "labelOffset": 3,
                "symbolType": "stroke", "symbolSize": 2500, "symbolFillColor": "transparent", "symbolDash": [6, 2, 2, 2], "symbolStrokeWidth": 1.2, "symbolOpacity": 1,
                "labelFont": "Liberation Serif", "labelFontSize": 22, "labelColor": "#000000",
                "titleFont": "Liberation Serif", "titleFontSize": 22, "titleFontWeight": "normal", "titleColor": "#000000",
                "orient": "none", "direction": "horizontal", "titleOrient": "left", "titleAnchor": "middle", "titleBaseline": "top", "titlePadding": 12}},
            "size": {"field": "f", "type": "ordinal", "scale": {"range": [40, 40]},
              "legend": {"title": null, "legendX": 590, "legendY": 569, "labelOffset": 17,
                "symbolType": "triangle-up", "symbolStrokeColor": "#2c2cd0", "symbolFillColor": "transparent", "symbolStrokeWidth": 1, "symbolOpacity": 1,
                "labelFont": "Liberation Serif", "labelFontSize": 22, "labelColor": "#000000",
                "orient": "none", "direction": "horizontal"}}
          }
        }
      ],
      "resolve": {"axis": {"x": "independent", "y": "independent"}}
    },
    {
      "width": 127, "height": 490,
      "transform": [{"filter": "datum.panel == 2"}],
      "layer": [
        {
          "data": {"values": [{}]},
          "mark": {"type": "rule", "strokeDash": [6, 4], "color": "#000000", "strokeWidth": 1.2},
          "encoding": {"x": {"datum": 0, "type": "quantitative", "axis": {"orient": "bottom", "labels": false, "ticks": false, "title": "=0.3", "titleFont": "Liberation Serif", "titleFontSize": 26, "titleColor": "#000000", "titleFontWeight": "normal", "titleX": 62, "titleAlign": "left", "titlePadding": 8}}}
        },
        {
          "transform": [{"fold": ["g100", "g40", "g20"], "as": ["s", "u"]}],
          "mark": {"type": "line", "strokeWidth": 1.3, "clip": true},
          "encoding": {
            "x": {"field": "u", "type": "quantitative", "scale": {"domain": [-4, 10], "nice": false, "zero": false},
              "axis": {"orient": "top", "values": [-2.5, 0, 2.5, 5, 7.5], "labelExpr": "datum.value == 0 ? '0' : datum.value == 5 ? '5' : ''", "labelFont": "Liberation Serif", "labelFontSize": 24, "labelColor": "#000000", "tickSize": -6, "labelPadding": 13, "title": null}},
            "y": {"field": "r", "type": "quantitative", "scale": {"domain": [-0.06, 1.7], "nice": false, "zero": false}, "axis": null},
            "order": {"field": "r", "type": "quantitative"},
            "detail": {"field": "s", "type": "nominal"},
            "color": {"condition": [{"test": "datum.s == 'g40'", "value": "#e3211c"}, {"test": "datum.s == 'g20'", "value": "#2424c4"}], "value": "#000000"},
            "strokeDash": {"condition": [{"test": "datum.s == 'g40'", "value": [6, 4]}, {"test": "datum.s == 'g20'", "value": [8, 3, 2, 3]}], "value": [1, 0]}
          }
        },
        {
          "transform": [{"fold": ["p100", "p40", "p20"], "as": ["s", "u"]}],
          "mark": {"type": "point", "size": 80, "strokeWidth": 1, "opacity": 1, "clip": true},
          "encoding": {
            "x": {"field": "u", "type": "quantitative", "axis": {"orient": "bottom", "labels": false, "ticks": false, "title": "x/d", "titleFont": "Liberation Serif", "titleFontStyle": "italic", "titleFontWeight": "normal", "titleColor": "#000000", "titleFontSize": 26, "titleX": 62, "titleAlign": "right", "titlePadding": 8}},
            "y": {"field": "r", "type": "quantitative", "axis": null},
            "shape": {"condition": [{"test": "datum.s == 'p100'", "value": "square"}, {"test": "datum.s == 'p40'", "value": "circle"}], "value": "triangle-up"},
            "color": {"condition": [{"test": "datum.s == 'p100'", "value": "#3a3a3a"}, {"test": "datum.s == 'p40'", "value": "#c41a16"}], "value": "#2c2cd0"},
            "fill": {"condition": {"test": "datum.s == 'p40'", "value": "#ee2a24"}, "value": "transparent"}
          }
        }
      ],
      "resolve": {"axis": {"x": "independent"}}
    },
    {
      "width": 127, "height": 490,
      "transform": [{"filter": "datum.panel == 3"}],
      "layer": [
        {
          "data": {"values": [{}]},
          "mark": {"type": "rule", "strokeDash": [6, 4], "color": "#000000", "strokeWidth": 1.2},
          "encoding": {"x": {"datum": 0, "type": "quantitative", "axis": {"orient": "bottom", "labels": false, "ticks": false, "title": "=0.5", "titleFont": "Liberation Serif", "titleFontSize": 26, "titleColor": "#000000", "titleFontWeight": "normal", "titleX": 62, "titleAlign": "left", "titlePadding": 8}}}
        },
        {
          "transform": [{"fold": ["g100", "g40", "g20"], "as": ["s", "u"]}],
          "mark": {"type": "line", "strokeWidth": 1.3, "clip": true},
          "encoding": {
            "x": {"field": "u", "type": "quantitative", "scale": {"domain": [-4, 9.9], "nice": false, "zero": false},
              "axis": {"orient": "top", "values": [-3, 0, 3, 6, 9], "labelExpr": "datum.value == 0 ? '0' : datum.value == 6 ? '6' : ''", "labelFont": "Liberation Serif", "labelFontSize": 24, "labelColor": "#000000", "tickSize": -6, "labelPadding": 13, "title": null}},
            "y": {"field": "r", "type": "quantitative", "scale": {"domain": [-0.06, 1.7], "nice": false, "zero": false}, "axis": null},
            "order": {"field": "r", "type": "quantitative"},
            "detail": {"field": "s", "type": "nominal"},
            "color": {"condition": [{"test": "datum.s == 'g40'", "value": "#e3211c"}, {"test": "datum.s == 'g20'", "value": "#2424c4"}], "value": "#000000"},
            "strokeDash": {"condition": [{"test": "datum.s == 'g40'", "value": [6, 4]}, {"test": "datum.s == 'g20'", "value": [8, 3, 2, 3]}], "value": [1, 0]}
          }
        },
        {
          "transform": [{"fold": ["p100", "p40", "p20"], "as": ["s", "u"]}],
          "mark": {"type": "point", "size": 80, "strokeWidth": 1, "opacity": 1, "clip": true},
          "encoding": {
            "x": {"field": "u", "type": "quantitative", "axis": {"orient": "bottom", "labels": false, "ticks": false, "title": "x/d", "titleFont": "Liberation Serif", "titleFontStyle": "italic", "titleFontWeight": "normal", "titleColor": "#000000", "titleFontSize": 26, "titleX": 62, "titleAlign": "right", "titlePadding": 8}},
            "y": {"field": "r", "type": "quantitative", "axis": null},
            "shape": {"condition": [{"test": "datum.s == 'p100'", "value": "square"}, {"test": "datum.s == 'p40'", "value": "circle"}], "value": "triangle-up"},
            "color": {"condition": [{"test": "datum.s == 'p100'", "value": "#3a3a3a"}, {"test": "datum.s == 'p40'", "value": "#c41a16"}], "value": "#2c2cd0"},
            "fill": {"condition": {"test": "datum.s == 'p40'", "value": "#ee2a24"}, "value": "transparent"}
          }
        }
      ],
      "resolve": {"axis": {"x": "independent"}}
    },
    {
      "width": 127, "height": 490,
      "transform": [{"filter": "datum.panel == 4"}],
      "layer": [
        {
          "data": {"values": [{}]},
          "mark": {"type": "rule", "strokeDash": [6, 4], "color": "#000000", "strokeWidth": 1.2},
          "encoding": {"x": {"datum": 0, "type": "quantitative", "axis": {"orient": "bottom", "labels": false, "ticks": false, "title": "=0.7", "titleFont": "Liberation Serif", "titleFontSize": 26, "titleColor": "#000000", "titleFontWeight": "normal", "titleX": 62, "titleAlign": "left", "titlePadding": 8}}}
        },
        {
          "transform": [{"fold": ["g100", "g40", "g20"], "as": ["s", "u"]}],
          "mark": {"type": "line", "strokeWidth": 1.3, "clip": true},
          "encoding": {
            "x": {"field": "u", "type": "quantitative", "scale": {"domain": [-3, 6.1], "nice": false, "zero": false},
              "axis": {"orient": "top", "values": [-3, -1.5, 0, 1.5, 3, 4.5, 6], "labelExpr": "datum.value == -3 ? '-3' : datum.value == 0 ? '0' : datum.value == 3 ? '3' : ''", "labelFont": "Liberation Serif", "labelFontSize": 24, "labelColor": "#000000", "tickSize": -6, "labelPadding": 13, "title": null}},
            "y": {"field": "r", "type": "quantitative", "scale": {"domain": [-0.06, 1.7], "nice": false, "zero": false}, "axis": null},
            "order": {"field": "r", "type": "quantitative"},
            "detail": {"field": "s", "type": "nominal"},
            "color": {"condition": [{"test": "datum.s == 'g40'", "value": "#e3211c"}, {"test": "datum.s == 'g20'", "value": "#2424c4"}], "value": "#000000"},
            "strokeDash": {"condition": [{"test": "datum.s == 'g40'", "value": [6, 4]}, {"test": "datum.s == 'g20'", "value": [8, 3, 2, 3]}], "value": [1, 0]}
          }
        },
        {
          "transform": [{"fold": ["p100", "p40", "p20"], "as": ["s", "u"]}],
          "mark": {"type": "point", "size": 80, "strokeWidth": 1, "opacity": 1, "clip": true},
          "encoding": {
            "x": {"field": "u", "type": "quantitative", "axis": {"orient": "bottom", "labels": false, "ticks": false, "title": "x/d", "titleFont": "Liberation Serif", "titleFontStyle": "italic", "titleFontWeight": "normal", "titleColor": "#000000", "titleFontSize": 26, "titleX": 62, "titleAlign": "right", "titlePadding": 8}},
            "y": {"field": "r", "type": "quantitative", "axis": null},
            "shape": {"condition": [{"test": "datum.s == 'p100'", "value": "square"}, {"test": "datum.s == 'p40'", "value": "circle"}], "value": "triangle-up"},
            "color": {"condition": [{"test": "datum.s == 'p100'", "value": "#3a3a3a"}, {"test": "datum.s == 'p40'", "value": "#c41a16"}], "value": "#2c2cd0"},
            "fill": {"condition": {"test": "datum.s == 'p40'", "value": "#ee2a24"}, "value": "transparent"}
          }
        }
      ],
      "resolve": {"axis": {"x": "independent"}}
    },
    {
      "width": 127, "height": 490,
      "transform": [{"filter": "datum.panel == 5"}],
      "layer": [
        {
          "data": {"values": [{}]},
          "mark": {"type": "rule", "strokeDash": [6, 4], "color": "#000000", "strokeWidth": 1.2},
          "encoding": {"x": {"datum": 0, "type": "quantitative", "axis": {"orient": "bottom", "labels": false, "ticks": false, "title": "=1.0", "titleFont": "Liberation Serif", "titleFontSize": 26, "titleColor": "#000000", "titleFontWeight": "normal", "titleX": 62, "titleAlign": "left", "titlePadding": 8}}}
        },
        {
          "transform": [{"fold": ["g100", "g40", "g20"], "as": ["s", "u"]}],
          "mark": {"type": "line", "strokeWidth": 1.3, "clip": true},
          "encoding": {
            "x": {"field": "u", "type": "quantitative", "scale": {"domain": [-2.1, 4.2], "nice": false, "zero": false},
              "axis": {"orient": "top", "values": [-2, -1, 0, 1, 2, 3, 4], "labelExpr": "datum.value == -2 ? '-2' : datum.value == 0 ? '0' : datum.value == 2 ? '2' : ''", "labelFont": "Liberation Serif", "labelFontSize": 24, "labelColor": "#000000", "tickSize": -6, "labelPadding": 13, "title": null}},
            "y": {"field": "r", "type": "quantitative", "scale": {"domain": [-0.06, 1.7], "nice": false, "zero": false}, "axis": null},
            "order": {"field": "r", "type": "quantitative"},
            "detail": {"field": "s", "type": "nominal"},
            "color": {"condition": [{"test": "datum.s == 'g40'", "value": "#e3211c"}, {"test": "datum.s == 'g20'", "value": "#2424c4"}], "value": "#000000"},
            "strokeDash": {"condition": [{"test": "datum.s == 'g40'", "value": [6, 4]}, {"test": "datum.s == 'g20'", "value": [8, 3, 2, 3]}], "value": [1, 0]}
          }
        },
        {
          "transform": [{"fold": ["p100", "p40", "p20"], "as": ["s", "u"]}],
          "mark": {"type": "point", "size": 80, "strokeWidth": 1, "opacity": 1, "clip": true},
          "encoding": {
            "x": {"field": "u", "type": "quantitative", "axis": {"orient": "bottom", "labels": false, "ticks": false, "title": "x/d", "titleFont": "Liberation Serif", "titleFontStyle": "italic", "titleFontWeight": "normal", "titleColor": "#000000", "titleFontSize": 26, "titleX": 62, "titleAlign": "right", "titlePadding": 8}},
            "y": {"field": "r", "type": "quantitative", "axis": null},
            "shape": {"condition": [{"test": "datum.s == 'p100'", "value": "square"}, {"test": "datum.s == 'p40'", "value": "circle"}], "value": "triangle-up"},
            "color": {"condition": [{"test": "datum.s == 'p100'", "value": "#3a3a3a"}, {"test": "datum.s == 'p40'", "value": "#c41a16"}], "value": "#2c2cd0"},
            "fill": {"condition": {"test": "datum.s == 'p40'", "value": "#ee2a24"}, "value": "transparent"}
          }
        }
      ],
      "resolve": {"axis": {"x": "independent"}}
    },
    {
      "width": 127, "height": 490,
      "transform": [{"filter": "datum.panel == 6"}],
      "layer": [
        {
          "data": {"values": [{}]},
          "mark": {"type": "rule", "strokeDash": [6, 4], "color": "#000000", "strokeWidth": 1.2},
          "encoding": {"x": {"datum": 0, "type": "quantitative", "axis": {"orient": "bottom", "labels": false, "ticks": false, "title": "=1.5", "titleFont": "Liberation Serif", "titleFontSize": 26, "titleColor": "#000000", "titleFontWeight": "normal", "titleX": 62, "titleAlign": "left", "titlePadding": 8}}}
        },
        {
          "transform": [{"fold": ["g100", "g40", "g20"], "as": ["s", "u"]}],
          "mark": {"type": "line", "strokeWidth": 1.3, "clip": true},
          "encoding": {
            "x": {"field": "u", "type": "quantitative", "scale": {"domain": [-1, 4.05], "nice": false, "zero": false},
              "axis": {"orient": "top", "values": [-1, 0, 1, 2, 3, 4], "labelExpr": "datum.value == 0 ? '0' : datum.value == 2 ? '2' : ''", "labelFont": "Liberation Serif", "labelFontSize": 24, "labelColor": "#000000", "tickSize": -6, "labelPadding": 13, "title": null}},
            "y": {"field": "r", "type": "quantitative", "scale": {"domain": [-0.06, 1.7], "nice": false, "zero": false}, "axis": null},
            "order": {"field": "r", "type": "quantitative"},
            "detail": {"field": "s", "type": "nominal"},
            "color": {"condition": [{"test": "datum.s == 'g40'", "value": "#e3211c"}, {"test": "datum.s == 'g20'", "value": "#2424c4"}], "value": "#000000"},
            "strokeDash": {"condition": [{"test": "datum.s == 'g40'", "value": [6, 4]}, {"test": "datum.s == 'g20'", "value": [8, 3, 2, 3]}], "value": [1, 0]}
          }
        },
        {
          "transform": [{"fold": ["p100", "p40", "p20"], "as": ["s", "u"]}],
          "mark": {"type": "point", "size": 80, "strokeWidth": 1, "opacity": 1, "clip": true},
          "encoding": {
            "x": {"field": "u", "type": "quantitative", "axis": {"orient": "bottom", "labels": false, "ticks": false, "title": "x/d", "titleFont": "Liberation Serif", "titleFontStyle": "italic", "titleFontWeight": "normal", "titleColor": "#000000", "titleFontSize": 26, "titleX": 62, "titleAlign": "right", "titlePadding": 8}},
            "y": {"field": "r", "type": "quantitative", "axis": null},
            "shape": {"condition": [{"test": "datum.s == 'p100'", "value": "square"}, {"test": "datum.s == 'p40'", "value": "circle"}], "value": "triangle-up"},
            "color": {"condition": [{"test": "datum.s == 'p100'", "value": "#3a3a3a"}, {"test": "datum.s == 'p40'", "value": "#c41a16"}], "value": "#2c2cd0"},
            "fill": {"condition": {"test": "datum.s == 'p40'", "value": "#ee2a24"}, "value": "transparent"}
          }
        }
      ],
      "resolve": {"axis": {"x": "independent"}}
    },
    {
      "width": 127, "height": 490,
      "transform": [{"filter": "datum.panel == 7"}],
      "layer": [
        {
          "data": {"values": [{}]},
          "mark": {"type": "rule", "strokeDash": [6, 4], "color": "#000000", "strokeWidth": 1.2},
          "encoding": {"x": {"datum": 0, "type": "quantitative", "axis": {"orient": "bottom", "labels": false, "ticks": false, "title": "=2.5", "titleFont": "Liberation Serif", "titleFontSize": 26, "titleColor": "#000000", "titleFontWeight": "normal", "titleX": 62, "titleAlign": "left", "titlePadding": 8}}}
        },
        {
          "transform": [{"fold": ["g100", "g40", "g20"], "as": ["s", "u"]}],
          "mark": {"type": "line", "strokeWidth": 1.3, "clip": true},
          "encoding": {
            "x": {"field": "u", "type": "quantitative", "scale": {"domain": [-1, 4], "nice": false, "zero": false},
              "axis": {"orient": "top", "values": [0, 1, 2, 3, 4], "labelExpr": "datum.value == 0 ? '0' : datum.value == 2 ? '2' : datum.value == 4 ? '4' : ''", "labelFont": "Liberation Serif", "labelFontSize": 24, "labelColor": "#000000", "tickSize": -6, "labelPadding": 13, "title": null}},
            "y": {"field": "r", "type": "quantitative", "scale": {"domain": [-0.06, 1.7], "nice": false, "zero": false}, "axis": null},
            "order": {"field": "r", "type": "quantitative"},
            "detail": {"field": "s", "type": "nominal"},
            "color": {"condition": [{"test": "datum.s == 'g40'", "value": "#e3211c"}, {"test": "datum.s == 'g20'", "value": "#2424c4"}], "value": "#000000"},
            "strokeDash": {"condition": [{"test": "datum.s == 'g40'", "value": [6, 4]}, {"test": "datum.s == 'g20'", "value": [8, 3, 2, 3]}], "value": [1, 0]}
          }
        },
        {
          "transform": [{"fold": ["p100", "p40", "p20"], "as": ["s", "u"]}],
          "mark": {"type": "point", "size": 80, "strokeWidth": 1, "opacity": 1, "clip": true},
          "encoding": {
            "x": {"field": "u", "type": "quantitative", "axis": {"orient": "bottom", "labels": false, "ticks": false, "title": "x/d", "titleFont": "Liberation Serif", "titleFontStyle": "italic", "titleFontWeight": "normal", "titleColor": "#000000", "titleFontSize": 26, "titleX": 62, "titleAlign": "right", "titlePadding": 8}},
            "y": {"field": "r", "type": "quantitative", "axis": null},
            "shape": {"condition": [{"test": "datum.s == 'p100'", "value": "square"}, {"test": "datum.s == 'p40'", "value": "circle"}], "value": "triangle-up"},
            "color": {"condition": [{"test": "datum.s == 'p100'", "value": "#3a3a3a"}, {"test": "datum.s == 'p40'", "value": "#c41a16"}], "value": "#2c2cd0"},
            "fill": {"condition": {"test": "datum.s == 'p40'", "value": "#ee2a24"}, "value": "transparent"}
          }
        }
      ],
      "resolve": {"axis": {"x": "independent"}}
    }
  ]
}
